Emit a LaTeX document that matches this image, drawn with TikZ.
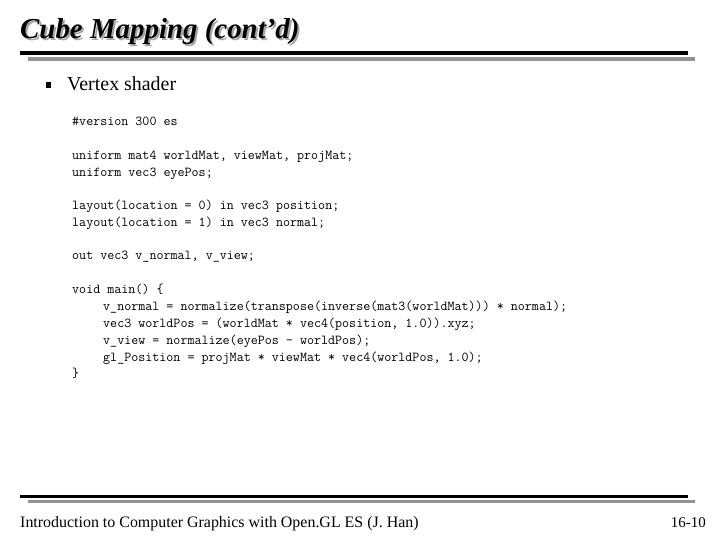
\documentclass[tikz,border=0pt]{standalone}
\usepackage{fontspec}
\setmainfont{Liberation Serif}
\setmonofont{Latin Modern Mono}
\begin{document}
\begin{tikzpicture}[x=1bp,y=-1bp,
  code/.style={anchor=base west,inner sep=0,font=\fontsize{13.7}{15}\ttfamily},
  foot/.style={anchor=base west,inner sep=0,font=\fontsize{16}{18}\selectfont},
  ttl/.style={anchor=base west,inner sep=0,font=\fontsize{29}{32}\bfseries\itshape}]
\useasboundingbox (0,0) rectangle (720,540);
\fill[white] (0,0) rectangle (720,540);
\node[ttl,text=gray!70] at (22,41) {Cube Mapping (cont’d)};
\node (title)[ttl] at (20,39) {Cube Mapping (cont’d)};
\fill[gray!85] (28,57) rectangle (695,61);
\fill[black] (20,51.5) rectangle (688,55.5);
\fill[gray!85] (28,500) rectangle (695,503);
\fill[black] (20,494.5) rectangle (688,498);
\fill (45.5,82) rectangle (50.5,88);
\node (bul)[anchor=base west,inner sep=0,font=\fontsize{20}{22}\selectfont] at (67,91) {Vertex shader};
\foreach \y/\t in {126/{\#version 300 es},
  160/{uniform mat4 worldMat, viewMat, projMat;},
  177/{uniform vec3 eyePos;},
  210/{layout(location = 0) in vec3 position;},
  227/{layout(location = 1) in vec3 normal;},
  260/{out vec3 v\_normal, v\_view;},
  293/{void main() \{},
  377/{\}}}
  \node[code] at (72,\y) {\t};
\foreach \y/\t in {310/{v\_normal = normalize(transpose(inverse(mat3(worldMat))) * normal);},
  327/{vec3 worldPos = (worldMat * vec4(position, 1.0)).xyz;},
  344/{v\_view = normalize(eyePos - worldPos);},
  361/{gl\_Position = projMat * viewMat * vec4(worldPos, 1.0);}}
  \node[code] at (103,\y) {\t};
\node (ft)[foot] at (20,527) {Introduction to Computer Graphics with Open.GL ES (J. Han)};
\node (pg)[anchor=base east,inner sep=0,font=\fontsize{15}{17}\selectfont] at (706,527) {16-10};
\end{tikzpicture}
\end{document}
